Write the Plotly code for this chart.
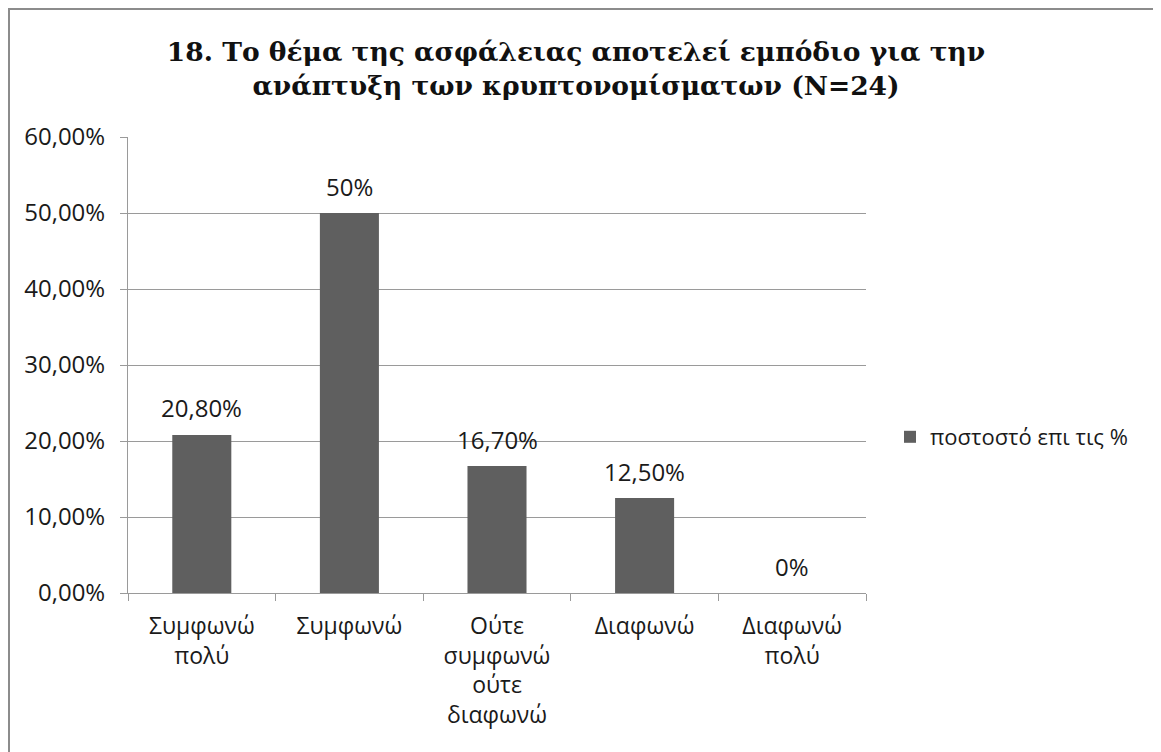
import plotly.graph_objects as go

categories = ["Συμφωνώ<br>πολύ", "Συμφωνώ", "Ούτε<br>συμφωνώ<br>ούτε<br>διαφωνώ", "Διαφωνώ", "Διαφωνώ<br>πολύ"]
values = [0.208, 0.50, 0.167, 0.125, 0.0]
value_labels = ["20,80%", "50%", "16,70%", "12,50%", "0%"]
series_name = "ποστοστό επι τις %"
title_text = "18. Το θέμα της ασφάλειας αποτελεί εμπόδιο για την<br>ανάπτυξη των κρυπτονομίσματων (N=24)"

OFF = 8  # default page body margin
W, H = 1153, 744
L, R, T, B = 128 - OFF, 866 - OFF, 137 - OFF, 593 - OFF

TXT = "#1a1a1a"
GRID = "#9a9a9a"
SANS = "Open Sans, Noto Sans, sans-serif"

fig = go.Figure()
fig.add_trace(go.Bar(
    x=categories, y=values, name=series_name,
    marker=dict(color="#5f5f5f", line=dict(width=0)),
    showlegend=True,
))
for c, v, t in zip(categories, values, value_labels):
    fig.add_annotation(x=c, y=v, text=t, showarrow=False, yanchor="middle", yshift=27,
                       font=dict(family=SANS, size=24, color=TXT))

def fx(p):  # figure pixel -> paper x
    return (p - L) / (R - L)

def fy(p):  # figure pixel -> paper y
    return (B - p) / (B - T)

fig.update_layout(
    width=W, height=H,
    margin=dict(l=L, r=W - R, t=T, b=H - B, pad=0),
    paper_bgcolor="white", plot_bgcolor="white",
    separators=", ",
    bargap=0.6,
    title=dict(text=title_text, x=(576 - OFF) / W, xanchor="center", y=1 - 53 / H, yanchor="top",
               font=dict(family="DejaVu Serif, serif", size=26.5, color="#111111", weight="bold")),
    font=dict(family=SANS, size=23, color=TXT),
    legend=dict(x=fx(890 - OFF), y=fy(437 - OFF), xanchor="left", yanchor="middle",
                font=dict(family=SANS, size=22, color=TXT), itemwidth=30, tracegroupgap=0,
                bgcolor="rgba(0,0,0,0)"),
    showlegend=True,
)
fig.update_yaxes(
    range=[0, 0.6], dtick=0.1, tickformat=".2%",
    showgrid=True, gridcolor=GRID, gridwidth=1,
    showline=True, linecolor=GRID, linewidth=1,
    ticks="outside", ticklen=7, tickcolor=GRID, ticklabelstandoff=10,
    tickfont=dict(family=SANS, size=24, color=TXT), zeroline=False,
)
fig.update_xaxes(
    showline=True, linecolor=GRID, linewidth=1,
    ticks="outside", ticklen=7, tickcolor=GRID, tickson="boundaries", ticklabelstandoff=12,
    tickfont=dict(family=SANS, size=23, color=TXT),
)
fig.add_shape(type="rect", xref="paper", yref="paper",
              x0=fx(1), x1=fx(1155 - OFF), y0=fy(H + 20), y1=fy(1),
              line=dict(color="#8c8c8c", width=2), fillcolor="rgba(0,0,0,0)", layer="below")

fig.write_html("out.html")
